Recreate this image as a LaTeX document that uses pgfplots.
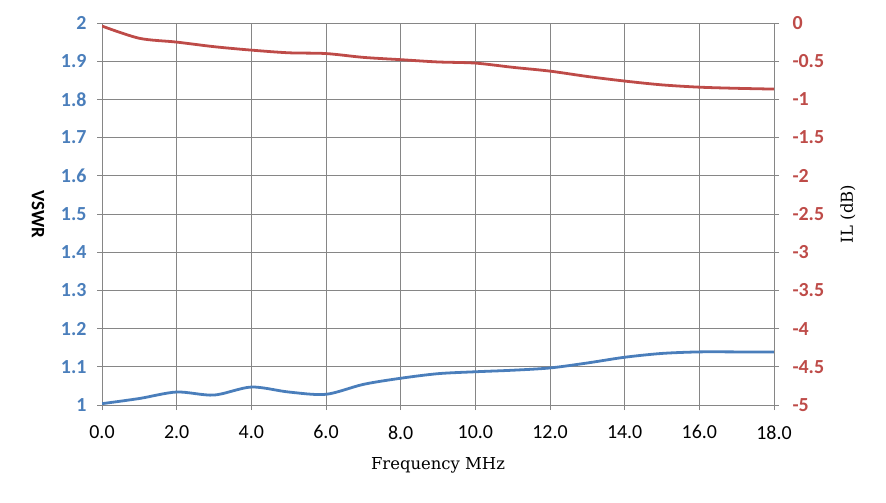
\documentclass[border=0pt]{standalone}
\usepackage{pgfplots}
\pgfplotsset{compat=1.18}
\usepackage{fontspec}
\setmainfont{Carlito}
\newfontfamily\simfont{DejaVu Serif}
\definecolor{vblue}{HTML}{4A7EBB}
\definecolor{ired}{HTML}{BE4B48}
\definecolor{gridg}{HTML}{868686}
\begin{document}
\begin{tikzpicture}
\path[use as bounding box] (0,0) rectangle (886bp,503bp);
\begin{axis}[
  at={(102bp,98bp)}, anchor=south west,
  width=672bp, height=382bp, scale only axis,
  xmin=0, xmax=18, ymin=1, ymax=2,
  xtick={0,2,...,18},
  xticklabels={0.0,2.0,4.0,6.0,8.0,10.0,12.0,14.0,16.0,18.0},
  ytick={1,1.1,...,2.01},
  yticklabel style={/pgf/number format/fixed, /pgf/number format/precision=1, font=\fontsize{20}{22}\selectfont\bfseries, text=vblue, xshift=-7bp},
  xticklabel style={font=\fontsize{20}{22}\selectfont, yshift=-12bp},
  /pgf/number format/assume math mode=true,
  axis y line*=left, axis x line*=bottom,
  grid=major, grid style={gridg, line width=0.8pt},
  axis line style={gridg, line width=0.8pt},
  tick style={gridg, line width=0.8pt},
  tick align=outside, major tick length=5bp,
  xtick pos=bottom, ytick pos=left,
  ylabel={\bfseries VSWR}, ylabel style={font=\fontsize{19}{21}\selectfont, rotate=180, at={(axis description cs:-0.0952,0.5)}, anchor=center},
  xlabel={\simfont Frequency MHz}, xlabel style={font=\fontsize{16.5}{18}\selectfont, at={(axis description cs:0.5,-0.157)}, anchor=center},
]
\addplot[vblue, line width=2.8pt, smooth, tension=0.5] coordinates {
(0,1.0035) (1,1.017) (2,1.034) (3,1.026) (4,1.047) (5,1.034) (6,1.028) (7,1.054) (8,1.070) (9,1.082) (10,1.087) (11,1.091) (12,1.097) (13,1.110) (14,1.125) (15,1.135) (16,1.139) (17,1.139) (18,1.139)
};
\end{axis}
\begin{axis}[
  at={(102bp,98bp)}, anchor=south west,
  width=672bp, height=382bp, scale only axis,
  xmin=0, xmax=18, ymin=-5, ymax=0,
  hide x axis,
  axis y line*=right,
  ytick={-5,-4.5,...,0.01},
  yticklabel style={/pgf/number format/fixed, font=\fontsize{20}{22}\selectfont\bfseries, text=ired, xshift=10bp},
  /pgf/number format/assume math mode=true,
  axis line style={gridg, line width=0.8pt},
  tick style={gridg, line width=0.8pt},
  tick align=outside, major tick length=5bp,
  ylabel={\simfont IL\ (dB)}, ylabel style={font=\fontsize{16.5}{18}\selectfont, at={(axis description cs:1.110,0.5)}, anchor=center},
]
\addplot[ired, line width=2.8pt, smooth, tension=0.5] coordinates {
(0,-0.04) (1,-0.20) (2,-0.25) (3,-0.31) (4,-0.355) (5,-0.39) (6,-0.40) (7,-0.45) (8,-0.48) (9,-0.51) (10,-0.525) (11,-0.58) (12,-0.63) (13,-0.70) (14,-0.76) (15,-0.81) (16,-0.84) (17,-0.855) (18,-0.865)
};
\end{axis}
\end{tikzpicture}
\end{document}
